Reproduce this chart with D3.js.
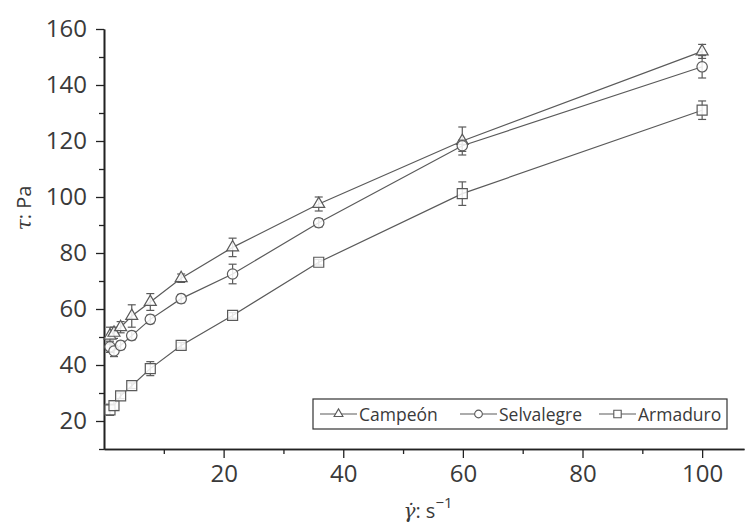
<!DOCTYPE html>
<html><head><meta charset="utf-8">
<script src="https://cdn.jsdelivr.net/npm/d3@7"></script>
<style>body{margin:0;background:#fff} text{font-family:"Open Sans",sans-serif}</style>
</head><body><svg id="c" width="752" height="527"></svg>
<script>
const shearRates = [1, 1.67, 2.78, 4.64, 7.74, 12.9, 21.5, 35.9, 59.9, 100];
const seriesNames = ["Campeón", "Selvalegre", "Armaduro"];
const campeon = [50.5, 51.5, 53.5, 57.5, 62.5, 71, 82, 97.5, 120, 152];
const campeonErr = [3, 2, 2, 4, 3, 1.5, 3.3, 2.5, 5, 2.5];
const selvalegre = [46.5, 45, 47, 50.5, 56.3, 63.7, 72.5, 90.8, 118.3, 146.5];
const selvalegreErr = [2, 2, 1.5, 1.5, 1.5, 1.5, 3.5, 1.5, 2, 4];
const armaduro = [24, 25.5, 29, 32.6, 38.7, 47, 57.7, 76.7, 101.2, 131];
const armaduroErr = [2, 1.5, 1, 1, 2.5, 1, 1, 1, 4.2, 3.3];
const xTicks = [20, 40, 60, 80, 100];
const xMinorTicks = [10, 30, 50, 70, 90];
const yTicks = [20, 40, 60, 80, 100, 120, 140, 160];
const yMinorTicks = [10, 30, 50, 70, 90, 110, 130, 150];

const svg = d3.select("#c");
const ink = "#3a3a3a", lineC = "#5a5a5a";
const x = d3.scaleLinear().domain([0, 107]).range([104, 744]);
const y = d3.scaleLinear().domain([10, 160]).range([449, 29]);

// axes
svg.append("g").attr("transform", `translate(0,${y(10)})`)
  .call(d3.axisBottom(x).tickValues(xTicks).tickSize(9).tickPadding(7).tickSizeOuter(0));
svg.append("g").attr("transform", `translate(0,${y(10)})`)
  .call(d3.axisBottom(x).tickValues(xMinorTicks).tickSize(5).tickFormat("").tickSizeOuter(0));
svg.append("g").attr("transform", `translate(${x(0)},0)`)
  .call(d3.axisLeft(y).tickValues(yTicks).tickSize(8).tickPadding(9).tickSizeOuter(0));
svg.append("g").attr("transform", `translate(${x(0)},0)`)
  .call(d3.axisLeft(y).tickValues(yMinorTicks).tickSize(5).tickFormat("").tickSizeOuter(0));
svg.selectAll(".domain").attr("stroke", "#222").attr("stroke-width", 1.6);
svg.selectAll(".tick line").attr("stroke", "#222").attr("stroke-width", 1.3);
svg.selectAll(".tick text").attr("fill", ink).style("font-family", '"Open Sans",sans-serif').style("font-size", "24px");

// axis titles
const yl = svg.append("text").attr("transform", "translate(31,208) rotate(-90)")
  .attr("text-anchor", "middle").attr("fill", ink).style("font-size", "20px");
yl.append("tspan").text("τ").style("font-style", "italic").style("font-family", '"DejaVu Serif",serif');
yl.append("tspan").text(": Pa");
const xl = svg.append("text").attr("x", 428).attr("y", 518)
  .attr("text-anchor", "middle").attr("fill", ink).style("font-size", "20px");
xl.append("tspan").text("γ̇").style("font-style", "italic").style("font-family", '"DejaVu Serif",serif');
xl.append("tspan").text(": s");
xl.append("tspan").text("−1").attr("dy", -10).style("font-size", "15px");

const series = [
  {name: seriesNames[0], vals: campeon, err: campeonErr, sym: d3.symbolTriangle, size: 62},
  {name: seriesNames[1], vals: selvalegre, err: selvalegreErr, sym: d3.symbolCircle, size: 85},
  {name: seriesNames[2], vals: armaduro, err: armaduroErr, sym: d3.symbolSquare, size: 100}
];
const line = d3.line().x(d => x(d[0])).y(d => y(d[1]));
series.forEach(s => {
  const pts = shearRates.map((r, i) => [r, s.vals[i], s.err[i]]);
  svg.append("path").attr("d", line(pts)).attr("fill", "none").attr("stroke", lineC).attr("stroke-width", 1.2);
  const g = svg.append("g");
  pts.forEach(p => {
    const cx = x(p[0]);
    g.append("line").attr("x1", cx).attr("x2", cx).attr("y1", y(p[1] - p[2])).attr("y2", y(p[1] + p[2])).attr("stroke", lineC).attr("stroke-width", 1.2);
    [p[1] - p[2], p[1] + p[2]].forEach(v => g.append("line").attr("x1", cx - 4).attr("x2", cx + 4).attr("y1", y(v)).attr("y2", y(v)).attr("stroke", lineC).attr("stroke-width", 1.2));
  });
  svg.append("g").selectAll("path").data(pts).join("path")
    .attr("d", d3.symbol().type(s.sym).size(s.size))
    .attr("transform", d => `translate(${x(d[0])},${y(d[1])})`)
    .attr("fill", "#fff").attr("fill-opacity", 0.85).attr("stroke", lineC).attr("stroke-width", 1.2);
});

// legend
svg.append("rect").attr("x", 313).attr("y", 399).attr("width", 414).attr("height", 30)
  .attr("fill", "#fff").attr("stroke", "#333").attr("stroke-width", 1.2);
const legX = [320, 460, 599];
series.forEach((s, i) => {
  const lx = legX[i], cy = 414;
  svg.append("line").attr("x1", lx).attr("x2", lx + 37).attr("y1", cy).attr("y2", cy).attr("stroke", lineC).attr("stroke-width", 1.2);
  svg.append("path").attr("d", d3.symbol().type(s.sym).size(s.size * 0.55)).attr("transform", `translate(${lx + 18.5},${cy})`)
    .attr("fill", "#fff").attr("stroke", lineC).attr("stroke-width", 1.1);
  svg.append("text").attr("x", lx + 39).attr("y", cy + 7).attr("fill", ink).style("font-size", "17.5px").text(s.name);
});
</script></body></html>
